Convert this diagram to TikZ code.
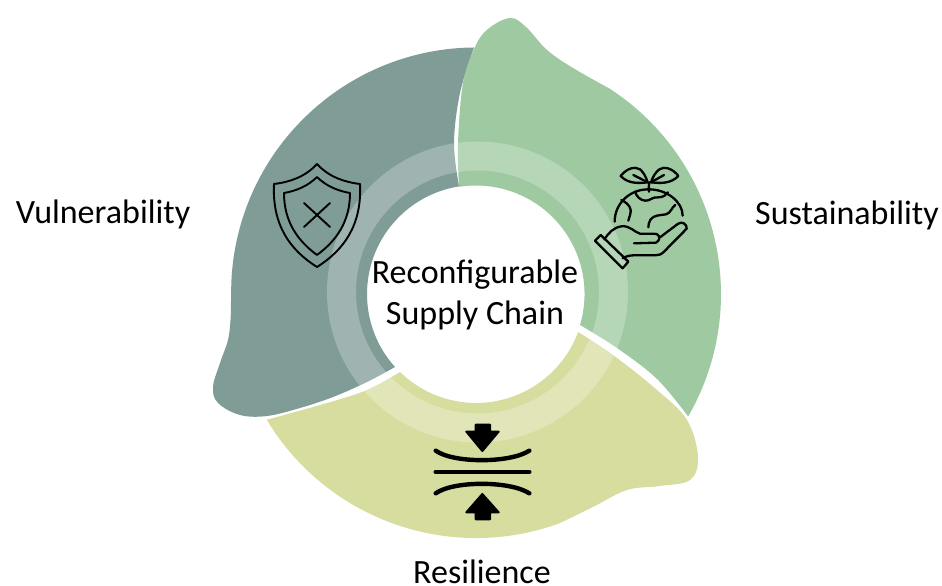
\documentclass[tikz,border=0pt]{standalone}
\usepackage{fontspec}
\setmainfont{Carlito}
\definecolor{grayseg}{HTML}{7F9C97}
\definecolor{greenseg}{HTML}{9EC9A1}
\definecolor{yellowseg}{HTML}{D7DD9F}
\tikzset{
  iconline/.style={draw=black,line width=1.9pt,line cap=round,line join=round},
  globeline/.style={draw=black,line width=2.3pt,line cap=round,line join=round},
  thickline/.style={draw=black,line width=4.4pt,line cap=round},
  solidtip/.style={fill=black,draw=black,line width=2pt,line join=round},
  lbl/.style={text=black,font=\fontsize{34}{40}\selectfont,inner sep=0pt},
}
\begin{document}
\begin{tikzpicture}[x=1pt,y=1pt]
\useasboundingbox (0,0) rectangle (942,586);
\fill[white] (0,0) rectangle (942,586);
\begin{scope}[shift={(0,586)},yscale=-1]
% gray segment
\fill[grayseg] (474,47.5)
  arc[start angle=-90.5,end angle=-178,radius=245]
  -- plot[smooth,tension=.6] coordinates {(231,301) (230.5,320) (228,340) (220,363) (213,387) (218,403) (240,415) (267,416) (300,408) (333,397) (367,382) (395,367)}
  arc[start angle=138,end angle=261,radius=109]
  -- plot[smooth,tension=.6] coordinates {(459,186) (454,143) (460,93) (474,47.5)} -- cycle;
% green segment
\fill[greenseg] (459,186)
  -- plot[smooth,tension=.6] coordinates {(459,186) (458,143) (463,83) (475,47) (488,29) (510,18) (526,27) (547,50) (573,68) (609.4,88.5)}
  arc[start angle=-57,end angle=30,radius=245]
  -- plot[smooth,tension=.6] coordinates {(688.2,416.5) (657,379) (617,348) (580,325)}
  arc[start angle=16.6,end angle=-99,radius=108.5] -- cycle;
% yellow segment
\fill[yellowseg] (578,332)
  -- plot[smooth,tension=.6] coordinates {(578,332) (613,355) (657,390) (687,420) (698,457) (690,480) (660,486) (627,490) (593,507) (559.5,523.3)}
  arc[start angle=70,end angle=149,radius=244.2]
  -- plot[smooth,tension=.6] coordinates {(266.7,419.8) (327,403) (367,390) (400,372)}
  arc[start angle=134.3,end angle=20.4,radius=108.9] -- cycle;
% light ring
\fill[white,opacity=.25,even odd rule] (477.5,292) circle[radius=150.5] (477.5,292) circle[radius=121.5];
% shield icon
\draw[iconline] (317,164) .. controls (305,177) and (290,182) .. (274,184)
  .. controls (272,225) and (290,250) .. (317,267)
  .. controls (344,250) and (362,225) .. (360,184)
  .. controls (344,182) and (329,177) .. (317,164) -- cycle;
\draw[iconline] (317,177) .. controls (308,186) and (296,191) .. (284,193)
  .. controls (284,222) and (298,241) .. (317,255)
  .. controls (336,241) and (350,222) .. (350,193)
  .. controls (338,191) and (326,186) .. (317,177) -- cycle;
\draw[iconline] (304,203) -- (330,227);
\draw[iconline] (330,203) -- (304,227);
% globe icon
\begin{scope}[shift={(580,150)},scale=1/3]
\draw[globeline] (122,78) .. controls (140,55) and (165,48) .. (180,58) .. controls (192,68) and (198,82) .. (203,97) .. controls (175,100) and (145,102) .. (122,78) -- cycle;
\draw[globeline] (295,78) .. controls (278,55) and (252,48) .. (238,58) .. controls (225,68) and (218,82) .. (213,97) .. controls (240,100) and (272,102) .. (295,78) -- cycle;
\draw[globeline] (160,75) -- (203,97);
\draw[globeline] (252,75) -- (213,97);
\draw[globeline] (207,125) .. controls (207,112) and (205,105) .. (208,97);
\draw[globeline] (104,215) .. controls (104,160) and (150,117) .. (207,118) .. controls (260,118) and (308,155) .. (308,197);
\draw[globeline] (165,125) .. controls (170,140) and (180,150) .. (195,152) .. controls (210,154) and (215,140) .. (235,142) .. controls (250,142) and (258,135) .. (264,127);
\draw[globeline] (124,150) .. controls (135,155) and (150,165) .. (152,180) .. controls (153,190) and (148,200) .. (145,212);
\draw[globeline] (286,165) .. controls (275,172) and (272,190) .. (258,193) .. controls (240,196) and (222,195) .. (212,208) .. controls (206,216) and (206,224) .. (205,232);
\draw[globeline] (45,272) -- (62,255) -- (145,335) -- (128,355) -- cycle;
\draw[globeline] (73,268) .. controls (85,250) and (100,232) .. (125,229) .. controls (150,226) and (165,248) .. (180,251) .. controls (200,252) and (215,250) .. (230,252) .. controls (242,258) and (240,272) .. (228,278) -- (162,280);
\draw[globeline] (240,262) -- (293,222) .. controls (305,212) and (322,222) .. (320,236) -- (254,303) .. controls (245,314) and (235,316) .. (225,316) -- (160,316) .. controls (148,316) and (135,320) .. (128,325);
\end{scope}
% squeeze icon
\begin{scope}[shift={(420,410)},scale=1/3]
\draw[thickline] (47,122) .. controls (100,160) and (270,160) .. (328,122);
\draw[thickline] (47,186) -- (328,186);
\draw[thickline] (47,250) .. controls (100,212) and (270,212) .. (328,250);
\filldraw[solidtip] (167,44) -- (210,44) -- (210,65) -- (236,65) -- (187,123) -- (139,65) -- (167,65) -- cycle;
\filldraw[solidtip] (167,328) -- (210,328) -- (210,307) -- (236,307) -- (187,252) -- (139,307) -- (167,307) -- cycle;
\end{scope}
% labels
\node[lbl,anchor=base] (cA) at (475,284) {Reconfigurable};
\node[lbl,anchor=base] (cB) at (475,325) {Supply Chain};
\node[lbl,anchor=base] (vul) at (103,224) {Vulnerability};
\node[lbl,anchor=base] (sus) at (847,225) {Sustainability};
\node[lbl,anchor=base] (res) at (482,584) {Resilience};
\end{scope}
\end{tikzpicture}
\end{document}
